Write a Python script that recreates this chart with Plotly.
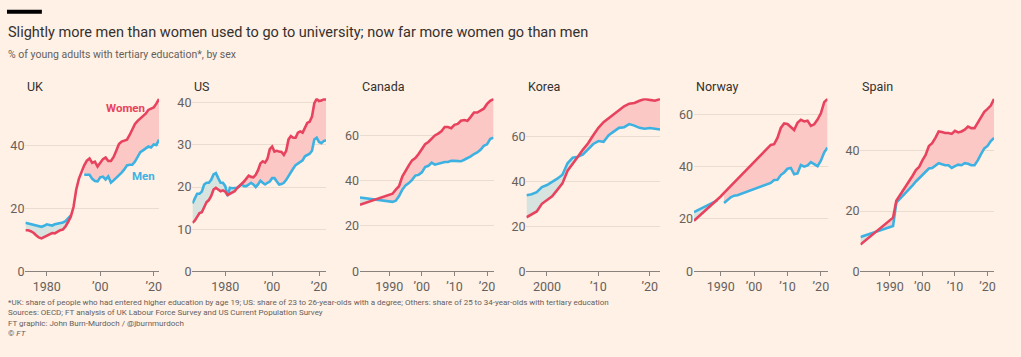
import plotly.graph_objects as go

# ---------------- data ----------------
uk_years = list(range(1972, 2023))
uk_women = [13.1, 13.1, 12.8, 12.3, 11.5, 10.8, 10.5, 10.9, 11.3, 11.8,
            12.2, 12.1, 12.7, 13.1, 13.3, 14.3, 15.8, 17.5, 20.5, 26.0,
            29.5, 31.8, 33.8, 35.3, 36.0, 34.6, 35.0, 33.4, 34.6, 35.8,
            36.3, 35.2, 35.2, 36.5, 38.5, 40.6, 41.4, 41.6, 42.0, 43.5,
            45.5, 47.0, 48.0, 48.7, 49.5, 50.3, 51.5, 52.0, 52.3, 53.5,
            55.0]
uk_men = [15.5, 15.3, 15.1, 15.0, 14.8, 14.4, 14.2, 14.5, 15.0, 14.8,
          14.6, 15.0, 15.2, 15.3, 15.6, 16.0, 17.0, 17.8, None, None,
          None, None, 30.8, 30.8, 30.8, 29.5, 28.8, 28.7, 30.0, 30.2,
          29.3, 30.3, 28.3, 29.0, 29.8, 30.5, 31.5, 32.5, 33.8, 34.0,
          34.0, 35.0, 36.3, 38.0, 38.6, 39.2, 39.8, 39.5, 40.5, 40.3,
          42.0]

us_years = list(range(1966, 2024))
us_women = [11.5, 12.0, 12.9, 13.8, 14.0, 15.2, 16.4, 16.9, 17.9, 19.4,
            19.8, 19.4, 19.0, 19.2, 18.9, 18.1, 18.4, 18.7, 19.0, 19.7,
            20.2, 20.7, 21.3, 22.0, 22.7, 22.4, 22.3, 22.9, 24.0, 25.6,
            26.1, 25.8, 26.7, 29.0, 29.6, 28.4, 28.6, 28.4, 28.3, 27.6,
            28.6, 31.3, 32.1, 31.7, 31.7, 32.9, 33.2, 32.9, 34.0, 35.2,
            35.5, 36.7, 39.9, 40.9, 40.4, 40.5, 40.8, 40.8]
us_men = [16.1, 17.4, 18.4, 18.4, 18.9, 20.6, 21.0, 21.0, 21.7, 23.0,
          23.3, 22.1, 21.0, 21.0, 20.2, 17.9, 19.8, 19.7, 19.7, 19.8,
          20.2, 20.6, 20.2, 20.2, 20.6, 21.0, 20.6, 20.0, 20.6, 21.5,
          21.0, 20.6, 21.0, 21.3, 22.1, 22.1, 21.3, 20.6, 20.7, 21.0,
          21.7, 22.7, 23.6, 24.4, 25.2, 25.6, 25.8, 26.3, 27.3, 27.6,
          27.9, 28.6, 31.3, 31.7, 30.7, 30.4, 30.9, 31.1]

ca_years = [1981] + list(range(1990, 2023))
ca_women = [29.3, 33.6, 34.2, 36.0, 37.5, 41.8, 44.6, 46.7, 48.9, 49.9,
            51.7, 53.6, 56.0, 57.0, 58.4, 59.9, 60.7, 61.7, 63.6, 63.6,
            63.1, 64.6, 65.0, 66.4, 66.7, 66.4, 68.1, 70.0, 70.0, 70.7,
            71.7, 73.8, 75.2, 76.0]
ca_men = [32.5, 30.8, 30.6, 31.1, 33.2, 36.0, 37.9, 38.9, 40.3, 42.2,
          42.5, 43.6, 46.0, 46.5, 47.9, 47.0, 47.5, 47.9, 48.2, 48.2,
          48.7, 48.7, 48.6, 48.5, 49.2, 49.9, 50.7, 51.7, 52.4, 53.6,
          55.3, 56.0, 58.4, 58.9]

kr_years = list(range(1996, 2023))
kr_women = [24.1, 25.5, 26.7, 30.1, 31.6, 33.4, 36.3, 39.2, 44.9, 47.8,
            51.1, 54.3, 57.1, 60.7, 64.0, 66.5, 68.3, 70.0, 72.2, 73.6,
            74.8, 75.1, 76.1, 76.9, 76.5, 76.1, 76.9]
kr_men = [33.9, 34.4, 35.3, 37.6, 38.5, 39.9, 41.3, 43.1, 48.2, 50.7,
          51.1, 52.1, 54.5, 56.8, 58.1, 57.8, 60.7, 62.2, 64.0, 64.3,
          65.7, 65.0, 64.0, 63.6, 63.9, 63.6, 63.3]

no_years = [1982, 1989, 1990, 1991, 1992, 1993, 1994, 1995] + list(range(2005, 2023))
no_women = [19.3, 27.3, 28.6, 30.0, 31.3, 32.6, 34.0, 35.6, 48.3, 48.6,
            51.0, 54.8, 56.5, 56.3, 55.2, 54.0, 56.8, 57.9, 57.3, 57.6,
            55.6, 56.2, 58.0, 60.4, 64.7, 65.9]
no_men = [22.6, 27.1, None, 26.1, 27.2, 28.3, 28.9, 29.1, 33.8, 34.9,
          35.0, 36.8, 37.8, 39.2, 39.5, 37.1, 37.4, 40.6, 40.0, 40.5,
          41.7, 41.0, 40.2, 42.3, 45.5, 47.3]

es_years = [1981] + list(range(1991, 2023))
es_women = [8.9, 17.8, 23.4, 25.0, 26.6, 28.2, 29.8, 31.7, 33.6, 34.6,
            36.8, 38.6, 41.6, 42.5, 44.3, 46.4, 46.2, 45.9, 45.9, 45.6,
            46.6, 46.1, 46.4, 47.0, 48.0, 47.5, 47.5, 49.3, 50.7, 52.9,
            53.9, 55.0, 57.2]
es_men = [11.4, 15.0, 22.8, 23.9, 25.0, 26.1, 27.1, 28.5, 29.8, 30.9,
          32.0, 33.0, 34.1, 34.3, 35.0, 35.9, 35.5, 35.2, 35.2, 34.3,
          34.9, 35.4, 35.2, 35.9, 35.7, 35.2, 35.2, 36.8, 38.9, 40.8,
          41.6, 43.2, 44.3]

panel_names = ["UK", "US", "Canada", "Korea", "Norway", "Spain"]
x_tick_years = [[1980, 2000, 2020], [1980, 2000, 2020], [1990, 2000, 2010, 2020],
                [2000, 2010, 2020], [1990, 2000, 2010, 2020], [1990, 2000, 2010, 2020]]
x_tick_labels = [["1980", "’00", "’20"], ["1980", "’00", "’20"], ["1990", "’00", "’10", "’20"],
                 ["2000", "’10", "’20"], ["1990", "’00", "’10", "’20"], ["1990", "’00", "’10", "’20"]]
y_tick_vals = [[0, 20, 40], [0, 10, 20, 30, 40], [0, 20, 40, 60],
               [0, 20, 40, 60], [0, 20, 40, 60], [0, 20, 40]]

title = "Slightly more men than women used to go to university; now far more women go than men"
subtitle = "% of young adults with tertiary education*, by sex"
footer = ("*UK: share of people who had entered higher education by age 19; US: share of 23 to 26-year-olds "
          "with a degree; Others: share of 25 to 34-year-olds with tertiary education<br>"
          "Sources: OECD; FT analysis of UK Labour Force Survey and US Current Population Survey<br>"
          "FT graphic: John Burn-Murdoch / @jburnmurdoch<br>"
          "© <i>FT</i>")

# ---------------- style ----------------
W, H = 1021, 357
BG = "#fff1e5"
RED = "#e8435e"
BLUE = "#3db2e2"
PINK = "#fcc8c6"
TEAL = "#d7e3de"
GRID = "#eadccf"
AXIS = "#8a837d"
TXT = "#33302e"
SUB = "#66605c"
FONT = "Roboto, sans-serif"

panel_left = [25.5, 193, 361, 528, 696, 863]
panel_width = 134
plot_top, plot_bottom = 98, 276

series = [(uk_years, uk_women, uk_men), (us_years, us_women, us_men),
          (ca_years, ca_women, ca_men), (kr_years, kr_women, kr_men),
          (no_years, no_women, no_men), (es_years, es_women, es_men)]


def fill_polygons(xs, w, m):
    polys, cur, prev = [], None, None
    for x, a, b in zip(xs, w, m):
        if a is None or b is None:
            if cur:
                polys.append(cur)
            cur, prev = None, None
            continue
        s = a >= b
        if prev is None:
            cur = {"top": [(x, a)], "bot": [(x, b)], "pos": s}
        else:
            px, pa, pb = prev
            if s != cur["pos"]:
                d0, d1 = pa - pb, a - b
                t = d0 / (d0 - d1)
                xc, yc = px + t * (x - px), pa + t * (a - pa)
                cur["top"].append((xc, yc))
                cur["bot"].append((xc, yc))
                polys.append(cur)
                cur = {"top": [(xc, yc), (x, a)], "bot": [(xc, yc), (x, b)], "pos": s}
            else:
                cur["top"].append((x, a))
                cur["bot"].append((x, b))
        prev = (x, a, b)
    if cur:
        polys.append(cur)
    out = []
    for p in polys:
        if len(p["top"]) < 2:
            continue
        fx = [q[0] for q in p["top"]] + [q[0] for q in reversed(p["bot"])]
        fy = [q[1] for q in p["top"]] + [q[1] for q in reversed(p["bot"])]
        out.append((fx, fy, p["pos"]))
    return out


fig = go.Figure()
layout = {}
annotations = []
for i, (yrs, wom, men) in enumerate(series):
    k = "" if i == 0 else str(i + 1)
    xa, ya = "x" + k, "y" + k
    for fx, fy, pos in fill_polygons(yrs, wom, men):
        fig.add_trace(go.Scatter(x=fx, y=fy, mode="lines", fill="toself",
                                 fillcolor=PINK if pos else TEAL, line=dict(width=0),
                                 hoverinfo="skip", showlegend=False, xaxis=xa, yaxis=ya))
    fig.add_trace(go.Scatter(x=yrs, y=men, mode="lines", line=dict(color=BLUE, width=2.6),
                             connectgaps=False, hoverinfo="skip", showlegend=False,
                             xaxis=xa, yaxis=ya))
    fig.add_trace(go.Scatter(x=yrs, y=wom, mode="lines", line=dict(color=RED, width=2.6),
                             connectgaps=False, hoverinfo="skip", showlegend=False,
                             xaxis=xa, yaxis=ya))
    ymax = max(v for v in wom + men if v is not None)
    L = panel_left[i]
    layout["xaxis" + k] = dict(
        domain=[L / W, (L + panel_width) / W], range=[min(yrs), max(yrs)], anchor=ya,
        showgrid=False, zeroline=False, showline=True, linecolor=AXIS, linewidth=1,
        ticks="outside", ticklen=4, tickcolor=AXIS, tickwidth=1,
        tickvals=x_tick_years[i], ticktext=x_tick_labels[i],
        tickfont=dict(family=FONT, size=12.5, color=SUB), fixedrange=True)
    layout["yaxis" + k] = dict(
        domain=[1 - plot_bottom / H, 1 - plot_top / H], range=[0, ymax * 1.004], anchor=xa,
        showgrid=True, gridcolor=GRID, gridwidth=1, zeroline=False, showline=False,
        ticks="", tickvals=y_tick_vals[i], ticktext=[str(v) for v in y_tick_vals[i]],
        tickfont=dict(family=FONT, size=12.5, color=SUB), fixedrange=True)
    annotations.append(dict(text=panel_names[i], xref="paper", yref="paper",
                            x=L / W, y=1 - 86 / H, xanchor="left", yanchor="middle",
                            showarrow=False, font=dict(family=FONT, size=12.5, color=TXT)))

annotations += [
    dict(text=title, xref="paper", yref="paper", x=6 / W, y=1 - 30 / H,
         xanchor="left", yanchor="middle", showarrow=False,
         font=dict(family=FONT, size=14.5, color=TXT)),
    dict(text=subtitle, xref="paper", yref="paper", x=6 / W, y=1 - 53 / H,
         xanchor="left", yanchor="middle", showarrow=False,
         font=dict(family=FONT, size=10.5, color=SUB)),
    dict(text=footer, xref="paper", yref="paper", x=6 / W, y=1 - 301 / H,
         xanchor="left", yanchor="top", align="left", showarrow=False,
         font=dict(family=FONT, size=8, color=SUB)),
    dict(text="<b>Women</b>", xref="x", yref="y", x=2017.6, y=52.2,
         xanchor="right", yanchor="middle", showarrow=False,
         font=dict(family=FONT, size=11.5, color=RED)),
    dict(text="<b>Men</b>", xref="x", yref="y", x=2011.2, y=30.3,
         xanchor="left", yanchor="middle", showarrow=False,
         font=dict(family=FONT, size=11.5, color=BLUE)),
]

fig.update_layout(
    width=W, height=H, autosize=False, margin=dict(l=0, r=0, t=0, b=0),
    paper_bgcolor=BG, plot_bgcolor=BG, showlegend=False,
    annotations=annotations,
    shapes=[dict(type="rect", xref="paper", yref="paper", x0=7 / W, x1=42 / W,
                 y0=1 - 11 / H, y1=1 - 7 / H, fillcolor="#000000", line=dict(width=0))],
    **layout)

fig.write_html("out.html",
               config={"responsive": False, "displayModeBar": False},
               post_script="document.body.style.margin='0';"
                           "document.body.style.background='#fff1e5';")
